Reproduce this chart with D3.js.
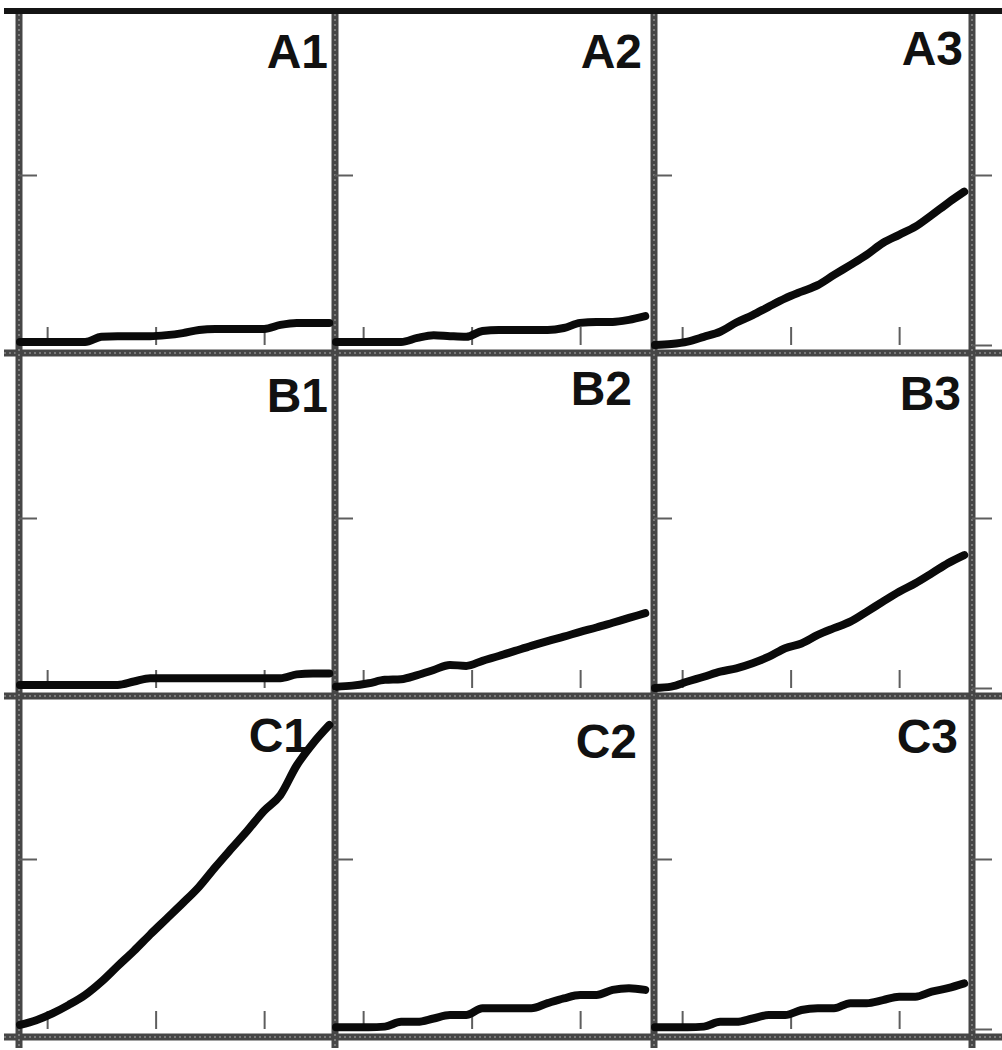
<!DOCTYPE html>
<html>
<head>
<meta charset="utf-8">
<script src="https://cdn.jsdelivr.net/npm/d3@7"></script>
<style>
  body { margin: 0; background: #fff; }
  svg { display: block; }
  .tick line { stroke: #5e5e5e; stroke-width: 2; }
  .label { font-family: "Liberation Sans", Arial, sans-serif; font-weight: bold; font-size: 48px; fill: #111; }
</style>
</head>
<body>
<div id="chart"></div>
<script>
// sampling times shared by every panel
var minutes = [0, 6, 12, 18, 24, 30, 36, 42, 48, 54, 60, 66, 72, 78, 84, 90, 96, 102, 108, 114];

var panelNames = ["A1", "A2", "A3", "B1", "B2", "B3", "C1", "C2", "C3"];

var a1 = [0.9, 0.9, 0.9, 0.9, 0.9, 2.4, 2.6, 2.6, 2.6, 2.9, 3.5, 4.4, 4.7, 4.7, 4.7, 4.7, 5.9, 6.5, 6.5, 6.5];
var a2 = [0.9, 0.9, 0.9, 0.9, 0.9, 2.1, 2.9, 2.6, 2.4, 4.1, 4.4, 4.4, 4.4, 4.4, 5.0, 6.5, 6.8, 6.8, 7.4, 8.5];
var a3 = [0, 0.3, 1.0, 2.4, 3.9, 6.6, 8.8, 11.3, 13.7, 15.7, 17.6, 20.6, 23.5, 26.5, 30.0, 32.4, 34.8, 38.2, 41.8, 45.1];
var b1 = [0.9, 0.9, 0.9, 0.9, 0.9, 0.9, 0.9, 1.9, 2.9, 2.9, 2.9, 2.9, 2.9, 2.9, 2.9, 2.9, 2.9, 4.0, 4.3, 4.3];
var b2 = [0.4, 0.7, 1.4, 2.4, 2.6, 3.8, 5.3, 6.8, 6.5, 8.0, 9.4, 10.9, 12.4, 13.8, 15.1, 16.5, 17.8, 19.2, 20.6, 22.0];
var b3 = [0, 0.4, 1.9, 3.3, 4.8, 5.8, 7.3, 9.2, 11.7, 13.1, 15.6, 17.6, 19.5, 22.4, 25.4, 28.3, 30.8, 33.7, 36.7, 39.1];
var c1 = [1.2, 2.6, 4.6, 7.1, 10.0, 13.9, 18.5, 23.0, 27.8, 32.4, 37.0, 41.8, 47.6, 53.1, 58.5, 64.2, 68.8, 77.5, 84.0, 89.4];
var c2 = [0.5, 0.5, 0.5, 0.7, 2.1, 2.1, 3.1, 4.1, 4.1, 6.1, 6.1, 6.1, 6.1, 7.6, 9.0, 10.0, 10.0, 11.5, 12.0, 11.5];
var c3 = [0.5, 0.5, 0.5, 0.7, 2.1, 2.1, 3.1, 4.1, 4.1, 5.6, 6.1, 6.1, 7.6, 7.6, 8.5, 9.5, 9.5, 11.0, 12.0, 13.4];

var series = [a1, a2, a3, b1, b2, b3, c1, c2, c3];

var xTicks = [10, 50, 90];
var yTicks = [50];
var rightTicks = [0, 50];

// grid of the 3x3 frame (border centre lines)
var colEdges = [19, 335, 654, 972];
var rowEdges = [11, 353, 696, 1037];
// label anchor offsets: [from column right edge, from row top edge]
var labelPos = [[7, 57], [12, 57], [9, 54], [7, 59], [22, 52], [11, 57], [25, 56], [17, 62], [14, 57]];

var width = 1002, height = 1050;

var svg = d3.select("#chart").append("svg")
    .attr("width", width)
    .attr("height", height);

svg.append("rect").attr("width", width).attr("height", height).attr("fill", "#fff");

var frame = svg.append("g");

function frameLine(x1, y1, x2, y2, dark) {
    frame.append("line")
        .attr("x1", x1).attr("y1", y1).attr("x2", x2).attr("y2", y2)
        .attr("stroke", dark ? "#141414" : "#464646")
        .attr("stroke-width", dark ? 6 : 7);
    if (!dark) {
        frame.append("line")
            .attr("x1", x1).attr("y1", y1).attr("x2", x2).attr("y2", y2)
            .attr("stroke", "#8c8c8c")
            .attr("stroke-width", 1.5)
            .attr("stroke-dasharray", "2 3");
    }
}

rowEdges.forEach(function (y, i) {
    frameLine(4, y, width, y, i === 0);
});
colEdges.forEach(function (x) {
    frameLine(x, rowEdges[0] + 3, x, height - 2, false);
});

series.forEach(function (values, i) {
    var col = i % 3, row = Math.floor(i / 3);
    var left = colEdges[col], right = colEdges[col + 1];
    var top = rowEdges[row], bottom = rowEdges[row + 1];

    var x = d3.scaleLinear().domain([0, 120]).range([left + 1, left + 326.5]);
    var y = d3.scaleLinear().domain([0, 100]).range([bottom - 8, bottom - 348]);

    var g = svg.append("g");

    g.append("g")
        .attr("transform", "translate(0," + (bottom - 8) + ")")
        .call(d3.axisTop(x).tickValues(xTicks).tickSize(18).tickFormat(""))
        .call(function (a) { a.select(".domain").remove(); });

    g.append("g")
        .attr("transform", "translate(" + left + ",0)")
        .call(d3.axisRight(y).tickValues(yTicks).tickSize(18).tickFormat(""))
        .call(function (a) { a.select(".domain").remove(); });

    if (col === 2) {
        g.append("g")
            .attr("transform", "translate(" + right + ",0)")
            .call(d3.axisRight(y).tickValues(rightTicks).tickSize(20).tickFormat(""))
            .call(function (a) { a.select(".domain").remove(); });
    }

    g.append("text")
        .attr("class", "label")
        .attr("x", right - labelPos[i][0])
        .attr("y", top + labelPos[i][1])
        .attr("text-anchor", "end")
        .text(panelNames[i]);

    var line = d3.line()
        .x(function (d, k) { return x(minutes[k]); })
        .y(function (d) { return y(d); })
        .curve(d3.curveMonotoneX);

    g.append("path")
        .datum(values)
        .attr("d", line)
        .attr("fill", "none")
        .attr("stroke", "#0a0a0a")
        .attr("stroke-width", 8)
        .attr("stroke-linecap", "round")
        .attr("stroke-linejoin", "round");
});
</script>
</body>
</html>
